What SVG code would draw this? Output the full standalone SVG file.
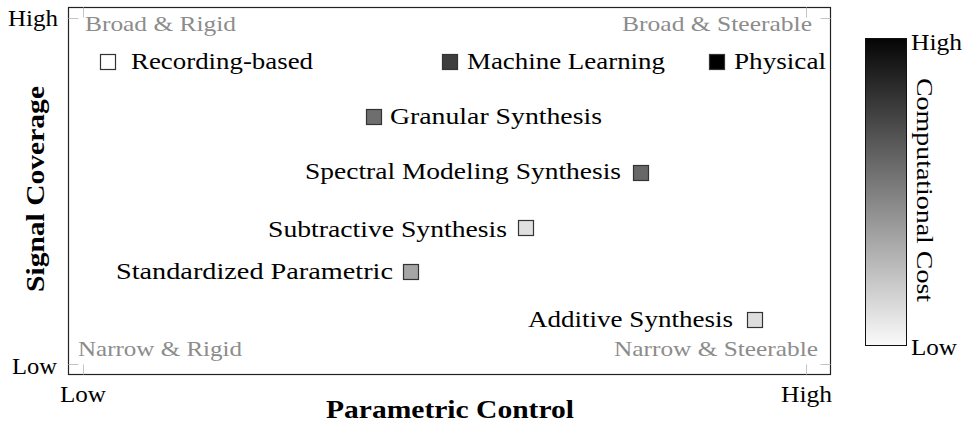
<svg xmlns="http://www.w3.org/2000/svg" width="967" height="424" viewBox="0 0 967 424">
  <style>
    text { font-family: "Liberation Serif", "Times New Roman", serif; fill: #000; }
    .lbl { font-size: 24px; }
    .tick { font-size: 24px; }
    .corner { font-size: 21px; fill: #8c8c8c; }
    .axis { font-size: 25px; font-weight: bold; }
    .mark { stroke: #333; stroke-width: 1.2; }
    .frame { fill: none; stroke: #222; stroke-width: 1.2; }
    .tk { stroke: #c4c4c4; stroke-width: 1; fill: none; }
  </style>
  <defs>
    <linearGradient id="costGrad" x1="0" y1="0" x2="0" y2="1">
      <stop offset="0" stop-color="#050505"/>
      <stop offset="1" stop-color="#fafafa"/>
    </linearGradient>
  </defs>

  <rect width="967" height="424" fill="#fff"/>

  <!-- plot frame and ticks -->
  <g id="axes">
    <rect class="frame" x="68.5" y="7.5" width="762" height="367"/>
    <path class="tk" d="M68.5 18.5 H78.5 M68.5 364.5 H78.5 M820.5 18.5 H830.5 M820.5 364.5 H830.5 M83.5 7.5 V17.5 M806.5 7.5 V17.5 M83.5 364.5 V374.5 M806.5 364.5 V374.5"/>
    <text class="tick" x="8" y="26" textLength="50" lengthAdjust="spacingAndGlyphs">High</text>
    <text class="tick" x="12" y="374" textLength="45" lengthAdjust="spacingAndGlyphs">Low</text>
    <text class="tick" x="60" y="402" textLength="46" lengthAdjust="spacingAndGlyphs">Low</text>
    <text class="tick" x="781" y="402" textLength="51" lengthAdjust="spacingAndGlyphs">High</text>
    <text class="axis" x="326" y="418" textLength="248" lengthAdjust="spacingAndGlyphs">Parametric Control</text>
    <text class="axis" transform="translate(44,189) rotate(-90)" text-anchor="middle" textLength="206" lengthAdjust="spacingAndGlyphs">Signal Coverage</text>
  </g>

  <!-- quadrant captions -->
  <g id="quadrants">
    <text class="corner" x="85" y="31" textLength="151" lengthAdjust="spacingAndGlyphs">Broad &amp; Rigid</text>
    <text class="corner" x="622" y="31" textLength="190" lengthAdjust="spacingAndGlyphs">Broad &amp; Steerable</text>
    <text class="corner" x="78" y="356" textLength="164" lengthAdjust="spacingAndGlyphs">Narrow &amp; Rigid</text>
    <text class="corner" x="614" y="356" textLength="204" lengthAdjust="spacingAndGlyphs">Narrow &amp; Steerable</text>
  </g>

  <!-- legend -->
  <g id="legend-recording">
    <rect class="mark" x="100.5" y="54.5" width="15" height="15" fill="#fff"/>
    <text class="lbl" x="131" y="69" textLength="182" lengthAdjust="spacingAndGlyphs">Recording-based</text>
  </g>
  <g id="legend-ml">
    <rect class="mark" x="442.5" y="54.5" width="15" height="15" fill="#3d3d3d"/>
    <text class="lbl" x="467" y="69" textLength="198" lengthAdjust="spacingAndGlyphs">Machine Learning</text>
  </g>
  <g id="legend-physical">
    <rect class="mark" x="709.5" y="54.5" width="15" height="15" fill="#000"/>
    <text class="lbl" x="734" y="69" textLength="92" lengthAdjust="spacingAndGlyphs">Physical</text>
  </g>

  <!-- synthesis methods -->
  <g id="granular">
    <rect class="mark" x="366.5" y="109.5" width="15" height="15" fill="#6e6e6e"/>
    <text class="lbl" x="390" y="124" textLength="212" lengthAdjust="spacingAndGlyphs">Granular Synthesis</text>
  </g>
  <g id="sms">
    <text class="lbl" x="305" y="179" textLength="316" lengthAdjust="spacingAndGlyphs">Spectral Modeling Synthesis</text>
    <rect class="mark" x="633.5" y="165.5" width="15" height="15" fill="#676767"/>
  </g>
  <g id="subtractive">
    <text class="lbl" x="268" y="237" textLength="239" lengthAdjust="spacingAndGlyphs">Subtractive Synthesis</text>
    <rect class="mark" x="518.5" y="220.5" width="15" height="15" fill="#e0e0e0"/>
  </g>
  <g id="standardized">
    <text class="lbl" x="116" y="279" textLength="277" lengthAdjust="spacingAndGlyphs">Standardized Parametric</text>
    <rect class="mark" x="403.5" y="264.5" width="15" height="15" fill="#a6a6a6"/>
  </g>
  <g id="additive">
    <text class="lbl" x="528" y="327" textLength="205" lengthAdjust="spacingAndGlyphs">Additive Synthesis</text>
    <rect class="mark" x="747.5" y="312.5" width="15" height="15" fill="#dedede"/>
  </g>

  <!-- colour bar -->
  <g id="colorbar">
    <rect x="865.5" y="38.5" width="41" height="307" fill="url(#costGrad)" stroke="#111" stroke-width="1"/>
    <text class="tick" x="911" y="50" textLength="51" lengthAdjust="spacingAndGlyphs">High</text>
    <text class="tick" x="911" y="355" textLength="46" lengthAdjust="spacingAndGlyphs">Low</text>
    <text class="lbl" transform="translate(917,190) rotate(90)" text-anchor="middle" textLength="224" lengthAdjust="spacingAndGlyphs">Computational Cost</text>
  </g>
</svg>
